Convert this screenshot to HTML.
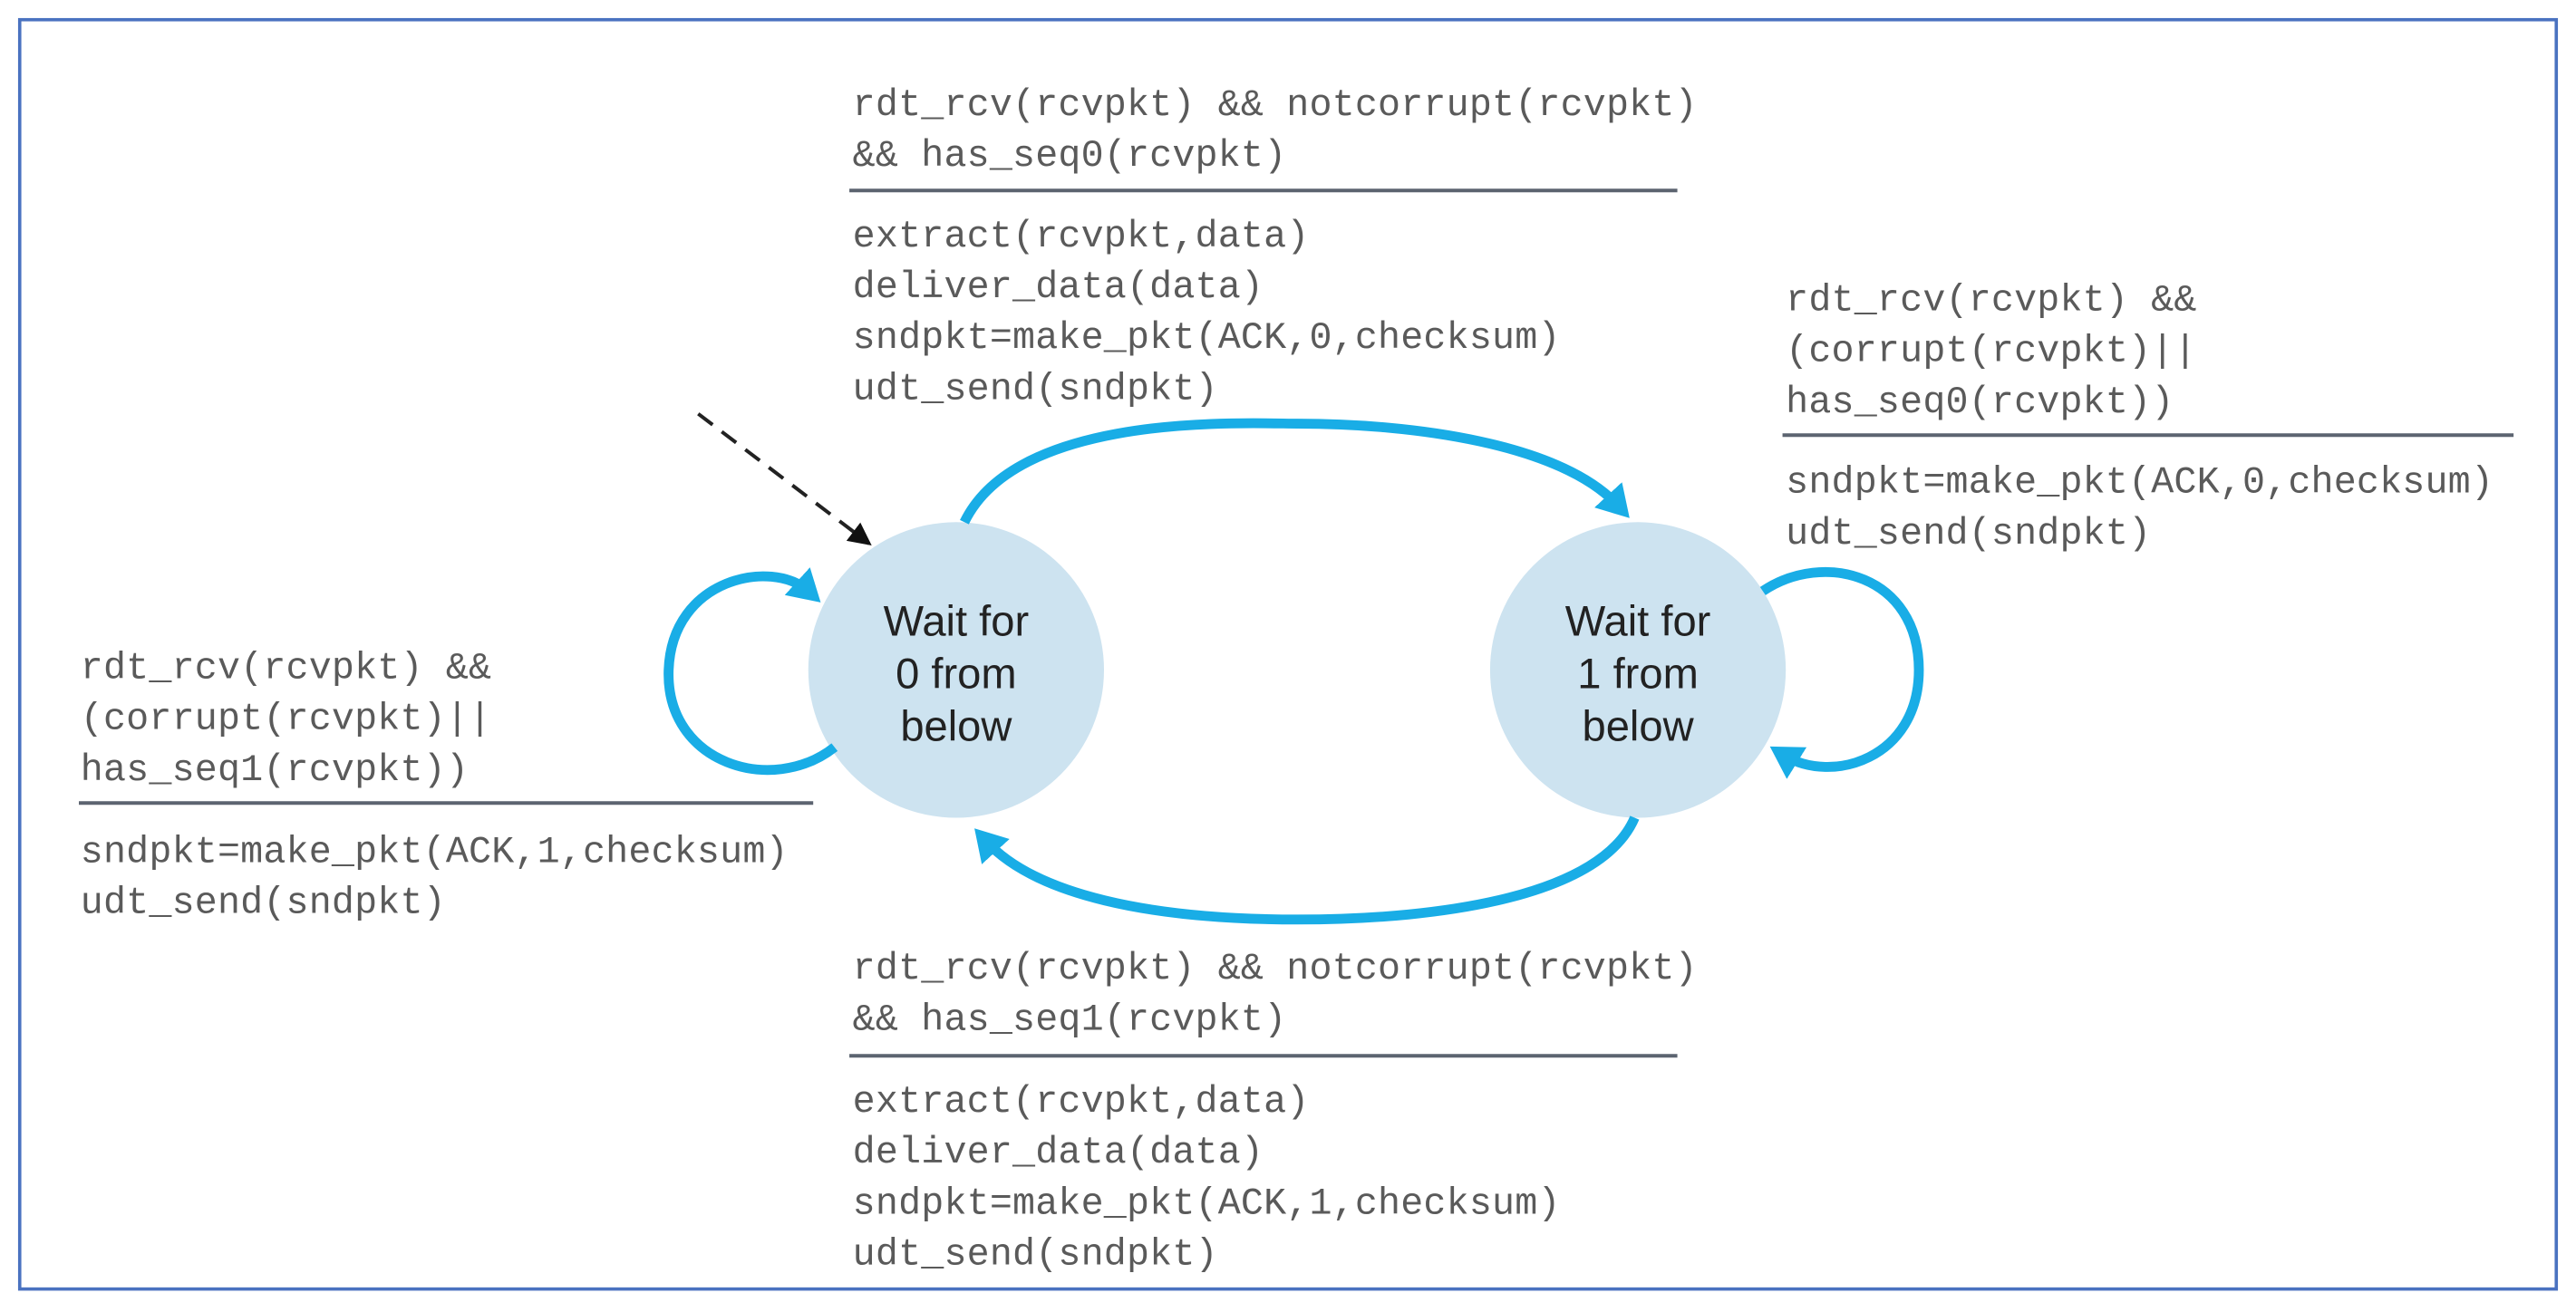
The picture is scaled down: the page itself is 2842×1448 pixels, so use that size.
<!DOCTYPE html>
<html><head><style>
html,body{margin:0;padding:0;background:#fff;width:2842px;height:1448px;overflow:hidden}
svg{display:block}
.m{font-family:"Liberation Mono",monospace;font-size:23px;fill:#5a5a5a;letter-spacing:0.1px}
.s{font-family:"Liberation Sans",sans-serif;font-size:26px;fill:#222;text-anchor:middle}
.rule{stroke:#5c6470;stroke-width:2.2}
.arc{fill:none;stroke:#19ade6;stroke-width:6}
</style></head><body>
<svg width="2842" height="1448" viewBox="0 0 1568 799" preserveAspectRatio="none">
<defs>
<marker id="ab" markerWidth="4" markerHeight="5" refX="1.5" refY="2.5" orient="auto" markerUnits="strokeWidth"><path d="M0,0.6 L3.2,2.5 L0,4.4 Z" fill="#19ade6"/></marker>
<marker id="ak" markerWidth="16" markerHeight="14" refX="12" refY="7" orient="auto" markerUnits="userSpaceOnUse"><path d="M0,0 L14,7 L0,14 Z" fill="#111"/></marker>
</defs>
<rect x="12" y="12" width="1544" height="773" fill="#fff" stroke="#4a72c0" stroke-width="2"/>

<!-- top -->
<text class="m" x="519" y="70">rdt_rcv(rcvpkt) &amp;&amp; notcorrupt(rcvpkt)</text>
<text class="m" x="519" y="101">&amp;&amp; has_seq0(rcvpkt)</text>
<line class="rule" x1="517" y1="116" x2="1021" y2="116"/>
<text class="m" x="519" y="150">extract(rcvpkt,data)</text>
<text class="m" x="519" y="181">deliver_data(data)</text>
<text class="m" x="519" y="212">sndpkt=make_pkt(ACK,0,checksum)</text>
<text class="m" x="519" y="243">udt_send(sndpkt)</text>

<!-- right -->
<text class="m" x="1087" y="189">rdt_rcv(rcvpkt) &amp;&amp;</text>
<text class="m" x="1087" y="220">(corrupt(rcvpkt)||</text>
<text class="m" x="1087" y="251">has_seq0(rcvpkt))</text>
<line class="rule" x1="1085" y1="265" x2="1530" y2="265"/>
<text class="m" x="1087" y="300">sndpkt=make_pkt(ACK,0,checksum)</text>
<text class="m" x="1087" y="331">udt_send(sndpkt)</text>

<!-- left -->
<text class="m" x="49" y="413">rdt_rcv(rcvpkt) &amp;&amp;</text>
<text class="m" x="49" y="444">(corrupt(rcvpkt)||</text>
<text class="m" x="49" y="475">has_seq1(rcvpkt))</text>
<line class="rule" x1="48" y1="489" x2="495" y2="489"/>
<text class="m" x="49" y="525">sndpkt=make_pkt(ACK,1,checksum)</text>
<text class="m" x="49" y="556">udt_send(sndpkt)</text>

<!-- bottom -->
<text class="m" x="519" y="596">rdt_rcv(rcvpkt) &amp;&amp; notcorrupt(rcvpkt)</text>
<text class="m" x="519" y="627">&amp;&amp; has_seq1(rcvpkt)</text>
<line class="rule" x1="517" y1="643" x2="1021" y2="643"/>
<text class="m" x="519" y="677">extract(rcvpkt,data)</text>
<text class="m" x="519" y="708">deliver_data(data)</text>
<text class="m" x="519" y="739">sndpkt=make_pkt(ACK,1,checksum)</text>
<text class="m" x="519" y="770">udt_send(sndpkt)</text>

<!-- states -->
<ellipse cx="582" cy="408" rx="90" ry="90" fill="#cde3f0"/>
<ellipse cx="997" cy="408" rx="90" ry="90" fill="#cde3f0"/>
<text class="s" x="582" y="387">Wait for</text>
<text class="s" x="582" y="419">0 from</text>
<text class="s" x="582" y="451">below</text>
<text class="s" x="997" y="387">Wait for</text>
<text class="s" x="997" y="419">1 from</text>
<text class="s" x="997" y="451">below</text>

<!-- arcs -->
<path class="arc" d="M587,318 C620,250 760,258 790,258 C860,258 950,270 985,308" marker-end="url(#ab)"/>
<path class="arc" d="M995,498 C975,545 880,560 790,560 C700,560 630,545 600,512" marker-end="url(#ab)"/>
<path class="arc" d="M508,455 C470,485 405,465 407,408 C409,352 470,340 492,360" marker-end="url(#ab)"/>
<path class="arc" d="M1073,360 C1110,335 1168,350 1168,408 C1168,462 1115,478 1086,460" marker-end="url(#ab)"/>

<!-- initial dashed -->
<line x1="425" y1="252" x2="529" y2="331" stroke="#222" stroke-width="2.2" stroke-dasharray="11,7" marker-end="url(#ak)"/>
</svg>
</body></html>
